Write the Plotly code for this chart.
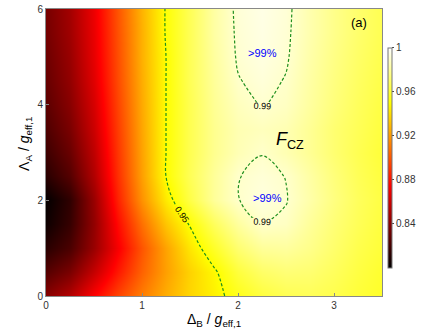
import plotly.graph_objects as go

# detuning Delta_B / g_eff,1 (columns) and Lambda_A / g_eff,1 (rows)
delta_b = [0, 0.25, 0.5, 0.75, 1.0, 1.25, 1.5, 1.75, 2.0, 2.25, 2.5, 2.75, 3.0, 3.25, 3.5]
lambda_a = [0, 0.5, 1.0, 1.5, 2.0, 2.5, 3.0, 3.5, 4.0, 4.5, 5.0, 5.5, 6.0]

# CZ gate fidelity, one row per lambda_a value
fidelity = [
    [0.840, 0.853, 0.875, 0.895, 0.912, 0.926, 0.938, 0.946, 0.955, 0.962, 0.966, 0.967, 0.965, 0.961, 0.958],
    [0.825, 0.836, 0.858, 0.882, 0.904, 0.922, 0.937, 0.948, 0.962, 0.970, 0.973, 0.972, 0.968, 0.963, 0.959],
    [0.812, 0.822, 0.845, 0.873, 0.900, 0.923, 0.943, 0.958, 0.972, 0.980, 0.981, 0.977, 0.971, 0.965, 0.961],
    [0.804, 0.816, 0.843, 0.878, 0.908, 0.933, 0.951, 0.968, 0.981, 0.9898, 0.988, 0.980, 0.973, 0.967, 0.962],
    [0.801, 0.814, 0.845, 0.885, 0.918, 0.944, 0.964, 0.980, 0.9897, 0.9935, 0.9905, 0.983, 0.975, 0.968, 0.963],
    [0.812, 0.825, 0.852, 0.889, 0.922, 0.950, 0.967, 0.980, 0.9897, 0.992, 0.9898, 0.982, 0.974, 0.967, 0.962],
    [0.818, 0.831, 0.856, 0.891, 0.923, 0.950, 0.966, 0.978, 0.9855, 0.9897, 0.985, 0.979, 0.972, 0.966, 0.961],
    [0.823, 0.836, 0.860, 0.893, 0.924, 0.950, 0.966, 0.978, 0.985, 0.987, 0.985, 0.979, 0.972, 0.967, 0.962],
    [0.827, 0.840, 0.863, 0.895, 0.925, 0.950, 0.966, 0.979, 0.987, 0.9905, 0.988, 0.981, 0.974, 0.968, 0.963],
    [0.830, 0.843, 0.866, 0.897, 0.926, 0.950, 0.967, 0.980, 0.9895, 0.9925, 0.9895, 0.982, 0.975, 0.969, 0.964],
    [0.832, 0.845, 0.868, 0.898, 0.927, 0.950, 0.967, 0.981, 0.991, 0.994, 0.991, 0.983, 0.976, 0.970, 0.965],
    [0.834, 0.847, 0.869, 0.899, 0.927, 0.951, 0.967, 0.982, 0.9915, 0.9945, 0.9915, 0.984, 0.977, 0.971, 0.966],
    [0.835, 0.848, 0.870, 0.900, 0.928, 0.951, 0.967, 0.982, 0.992, 0.995, 0.992, 0.984, 0.977, 0.971, 0.966],
]

cbar_ticks = [0.84, 0.88, 0.92, 0.96, 1.0]
cbar_text = ["0.84", "0.88", "0.92", "0.96", "1"]

# matlab "hot"
hot = [[0, "rgb(0,0,0)"], [0.375, "rgb(255,0,0)"], [0.75, "rgb(255,255,0)"], [1, "rgb(255,255,255)"]]

fig = go.Figure()
fig.add_trace(go.Heatmap(
    x=delta_b, y=lambda_a, z=fidelity, zsmooth="best",
    colorscale=hot, zmin=0.80, zmax=1.0,
    colorbar=dict(
        x=1.018, xanchor="left", y=0.481, yanchor="middle", len=0.767,
        xpad=0, ypad=0, thickness=4, outlinewidth=1, outlinecolor="#777",
        tickvals=cbar_ticks, ticktext=cbar_text, ticks="outside", ticklen=2,
        tickfont=dict(size=10, color="#333", family="Liberation Sans"),
    ),
))
fig.add_trace(go.Contour(
    x=delta_b, y=lambda_a, z=fidelity,
    contours=dict(coloring="none", start=0.95, end=0.99, size=0.04, showlabels=True,
                  labelfont=dict(size=9, color="black", family="Liberation Sans")),
    line=dict(color="#1e8f1e", dash="3px,2px", width=1.2),
    showscale=False, hoverinfo="skip",
))

fig.add_annotation(x=2.26, y=5.08, text=">99%", showarrow=False,
                   font=dict(size=11, color="blue", family="Liberation Sans"))
fig.add_annotation(x=2.31, y=2.05, text=">99%", showarrow=False,
                   font=dict(size=11, color="blue", family="Liberation Sans"))
fig.add_annotation(x=2.54, y=3.26, text="<i>F</i><sub>CZ</sub>", showarrow=False,
                   font=dict(size=18, color="black", family="Liberation Sans"))
fig.add_annotation(x=3.26, y=5.72, text="(a)", showarrow=False,
                   font=dict(size=13, color="black", family="Liberation Sans"))

# axis titles
fig.add_annotation(xref="paper", yref="paper", x=0.5, y=-0.084, yanchor="middle",
                   text="Δ<sub>B</sub> / <i>g</i><sub>eff,1</sub>", showarrow=False,
                   font=dict(size=14, color="black", family="Liberation Sans"))
fig.add_annotation(xref="paper", yref="paper", x=-0.0625, y=0.53, xanchor="center",
                   text="Λ<sub>A</sub> / <i>g</i><sub>eff,1</sub>", showarrow=False, textangle=-90,
                   font=dict(size=14, color="black", family="Liberation Sans"))

axis_style = dict(showline=True, linecolor="#888", linewidth=1, mirror=True, automargin=False,
                  ticks="inside", ticklen=3, tickcolor="#888", showgrid=False, zeroline=False,
                  tickfont=dict(size=10, color="#333", family="Liberation Sans"))

fig.update_xaxes(range=[0, 3.5], tickvals=[0, 1, 2, 3], **axis_style)
fig.update_yaxes(range=[0, 6], tickvals=[0, 2, 4, 6], **axis_style)

fig.update_layout(
    width=424, height=335,
    margin=dict(l=46, r=42, t=9, b=39, autoexpand=False),
    paper_bgcolor="white", plot_bgcolor="white",
    showlegend=False,
)

# drop the page's default body margin so the figure sits at the window corner
fig.write_html("out.html", config={"displayModeBar": False},
               post_script="document.body.style.margin='0px';")
